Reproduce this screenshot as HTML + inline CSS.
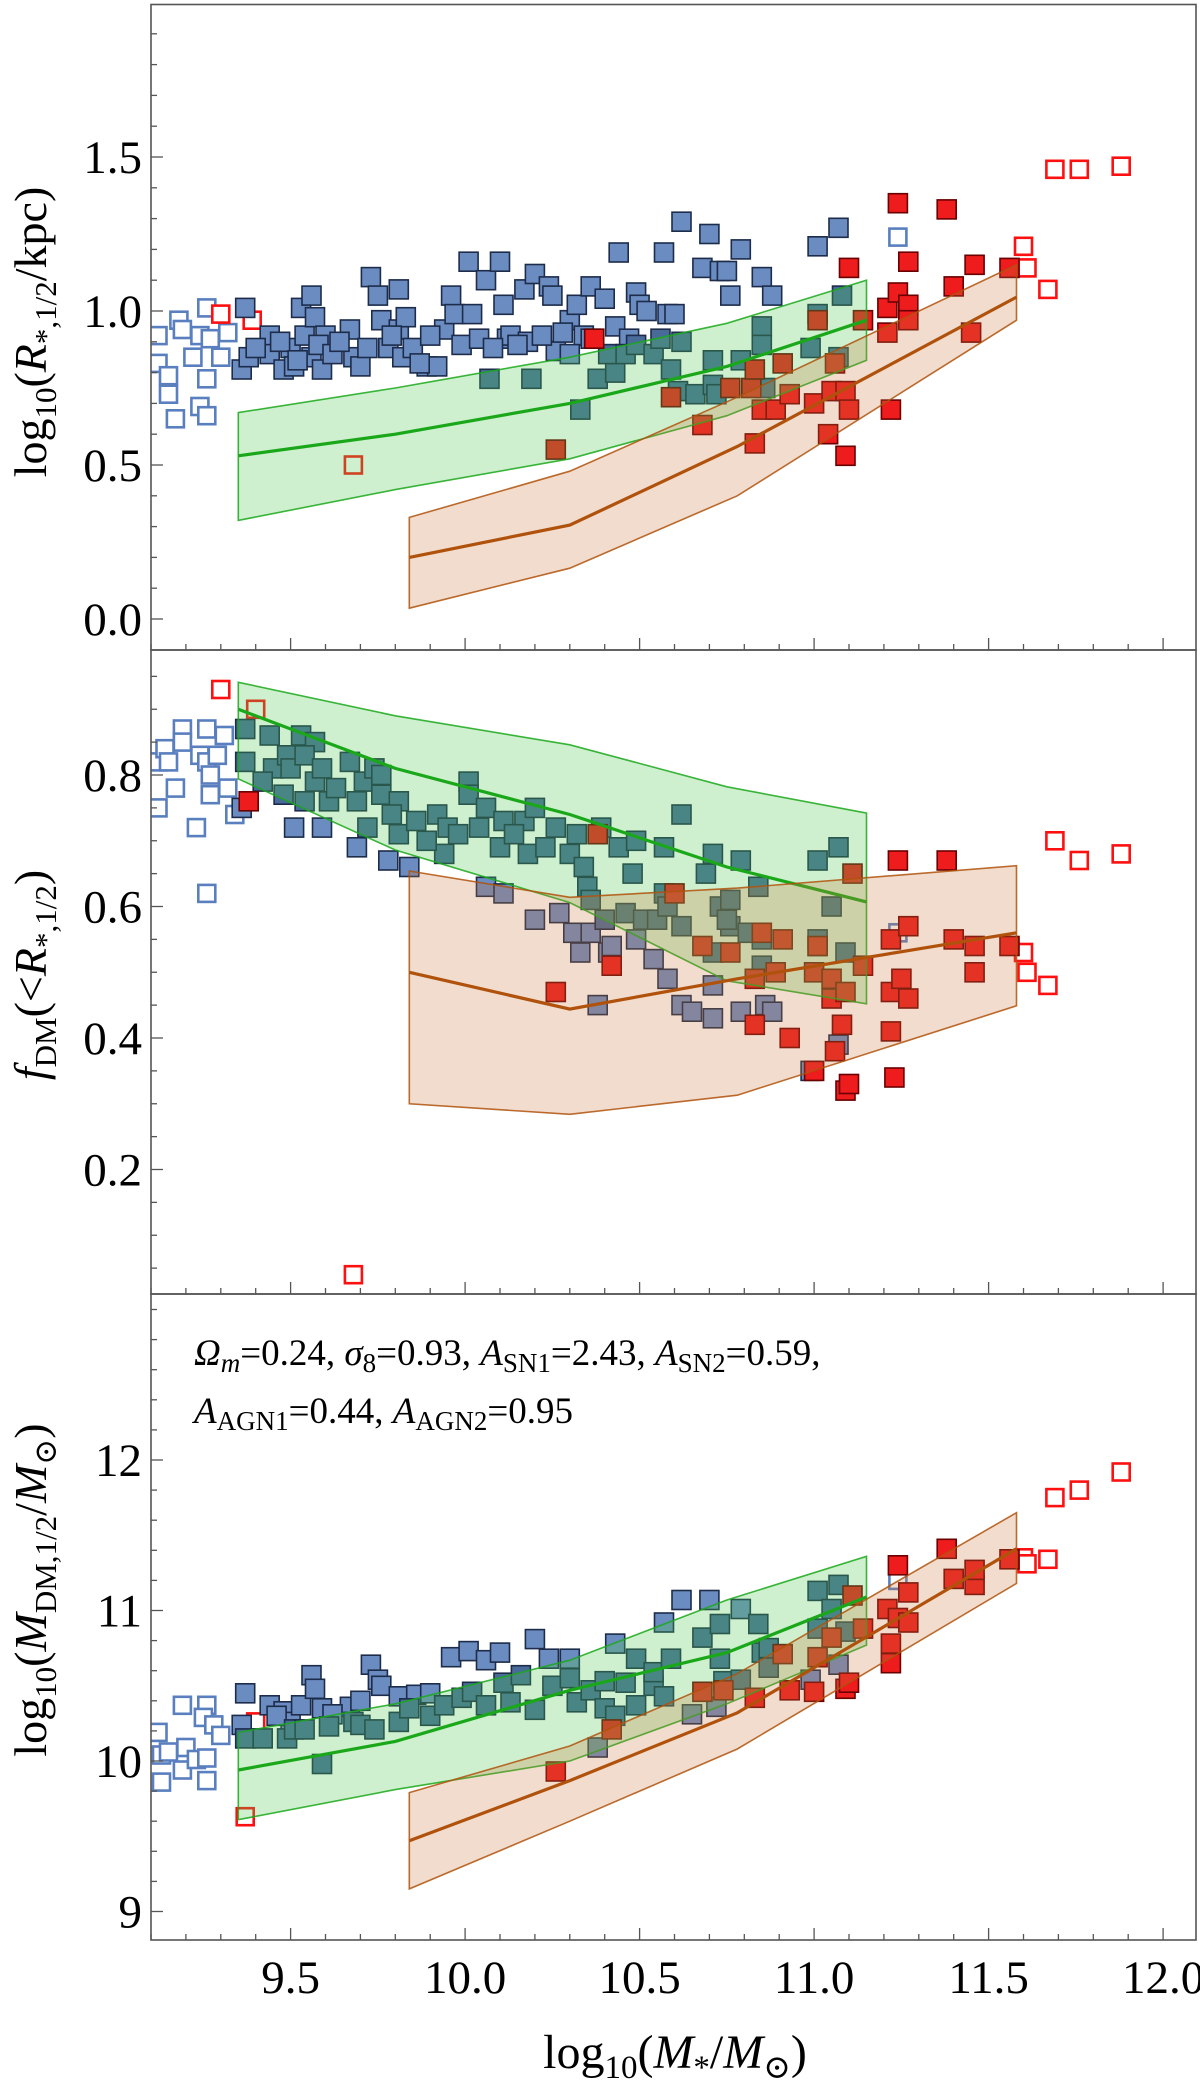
<!DOCTYPE html>
<html><head><meta charset="utf-8"><style>
html,body{margin:0;padding:0;background:#fff;}
svg, svg text{font-family:"Liberation Serif","DejaVu Serif",serif;}
</style></head><body>
<svg id="chart" xmlns="http://www.w3.org/2000/svg" width="1200" height="2091" viewBox="0 0 1200 2091" font-family="Liberation Serif, serif">
<rect x="0" y="0" width="1200" height="2091" fill="#fff"/>
<g id="layer"></g>
<g font-size="37" fill="#000">
<text x="194" y="1365"><tspan font-style="italic">Ω</tspan><tspan font-style="italic" font-size="27" dy="7">m</tspan><tspan dy="-7">=0.24, </tspan><tspan font-style="italic">σ</tspan><tspan font-size="27" dy="7">8</tspan><tspan dy="-7">=0.93, </tspan><tspan font-style="italic">A</tspan><tspan font-size="27" dy="7">SN1</tspan><tspan dy="-7">=2.43, </tspan><tspan font-style="italic">A</tspan><tspan font-size="27" dy="7">SN2</tspan><tspan dy="-7">=0.59,</tspan></text>
<text x="194" y="1423"><tspan font-style="italic">A</tspan><tspan font-size="27" dy="7">AGN1</tspan><tspan dy="-7">=0.44, </tspan><tspan font-style="italic">A</tspan><tspan font-size="27" dy="7">AGN2</tspan><tspan dy="-7">=0.95</tspan></text>
</g>
<text transform="translate(46,332) rotate(-90)" text-anchor="middle" font-size="46">log<tspan font-size="31" dy="10">10</tspan><tspan dy="-10">(</tspan><tspan font-style="italic">R</tspan><tspan font-size="31" dy="10">*,1/2</tspan><tspan dy="-10">/kpc)</tspan></text>
<text transform="translate(46,975) rotate(-90)" text-anchor="middle" font-size="46"><tspan font-style="italic">f</tspan><tspan font-size="31" dy="10">DM</tspan><tspan dy="-10">(&lt;</tspan><tspan font-style="italic">R</tspan><tspan font-size="31" dy="10">*,1/2</tspan><tspan dy="-10">)</tspan></text>
<text transform="translate(46,1590) rotate(-90)" text-anchor="middle" font-size="46">log<tspan font-size="31" dy="10">10</tspan><tspan dy="-10">(</tspan><tspan font-style="italic">M</tspan><tspan font-size="31" dy="10">DM,1/2</tspan><tspan dy="-10">/</tspan><tspan font-style="italic">M</tspan><tspan font-size="31" dy="10">⊙</tspan><tspan dy="-10">)</tspan></text>
<text x="675" y="2068" text-anchor="middle" font-size="48">log<tspan font-size="33" dy="10">10</tspan><tspan dy="-10">(</tspan><tspan font-style="italic">M</tspan><tspan font-size="33" dy="10">*</tspan><tspan dy="-10">/</tspan><tspan font-style="italic">M</tspan><tspan font-size="33" dy="10">⊙</tspan><tspan dy="-10">)</tspan></text>
</svg>
<script>
// ---- shared x axis ----
const xTicks = [9.5, 10.0, 10.5, 11.0, 11.5, 12.0];
const xTickLabels = ["9.5", "10.0", "10.5", "11.0", "11.5", "12.0"];
const bandX = [9.35, 9.8, 10.3, 10.75, 11.15];
const brownX = [9.84, 10.3, 10.78, 11.58];

// ---- top panel: radius ----
const topTicks = [0.0, 0.5, 1.0, 1.5];
const topTickLabels = ["0.0", "0.5", "1.0", "1.5"];
const topGreenMed = [0.53, 0.60, 0.70, 0.82, 0.97];
const topGreenHi = [0.67, 0.75, 0.85, 0.96, 1.10];
const topGreenLo = [0.32, 0.42, 0.52, 0.66, 0.84];
const topBrownMed = [0.20, 0.305, 0.56, 1.045];
const topBrownHi = [0.33, 0.48, 0.72, 1.15];
const topBrownLo = [0.035, 0.165, 0.40, 0.97];
const topBlue = [[9.37,1.01],[9.36,0.81],[9.38,0.85],[9.44,0.92],[9.44,0.86],[9.48,0.81],[9.50,0.88],[9.51,0.82],[9.53,1.01],[9.54,0.92],[9.56,0.85],[9.56,1.05],[9.57,0.98],[9.59,0.81],[9.60,0.92],[9.67,0.94],[9.68,0.85],[9.70,0.82],[9.73,1.11],[9.75,1.05],[9.76,0.97],[9.78,0.88],[9.81,1.07],[9.81,0.94],[9.82,0.85],[9.83,0.98],[9.85,0.88],[9.89,0.82],[9.92,0.82],[9.94,0.94],[9.96,1.05],[9.97,0.99],[10.01,1.16],[10.02,0.99],[10.06,1.10],[10.10,1.16],[10.11,1.02],[10.12,0.91],[10.13,0.92],[10.17,1.07],[10.18,0.90],[10.20,1.12],[10.24,1.08],[10.25,1.05],[10.26,0.87],[10.30,0.97],[10.32,1.02],[10.34,0.92],[10.36,1.08],[10.40,1.04],[10.43,0.95],[10.44,1.19],[10.49,1.06],[10.50,1.02],[10.52,1.00],[10.57,1.19],[10.58,0.99],[10.60,0.99],[10.62,1.29],[10.68,1.14],[10.70,1.25],[10.73,1.13],[10.75,1.13],[10.76,1.05],[10.79,1.20],[10.85,1.11],[10.88,1.05],[11.01,1.21],[11.07,1.27],[10.36,0.91],[10.30,0.86],[9.40,0.88],[9.47,0.90],[9.52,0.84],[9.58,0.89],[9.62,0.86],[9.64,0.90],[9.72,0.88],[9.79,0.92],[9.87,0.83],[9.90,0.92],[9.99,0.89],[10.04,0.91],[10.08,0.88],[10.15,0.89],[10.22,0.92],[10.28,0.93],[10.47,0.91]];
const topTeal = [[10.07,0.78],[10.19,0.78],[10.33,0.68],[10.38,0.78],[10.43,0.80],[10.41,0.86],[10.46,0.86],[10.49,0.89],[10.54,0.86],[10.56,0.91],[10.59,0.81],[10.62,0.90],[10.61,0.74],[10.66,0.73],[10.71,0.84],[10.71,0.76],[10.72,0.73],[10.79,0.84],[10.85,0.95],[10.86,0.75],[10.99,0.88],[11.01,0.99],[11.07,0.85],[11.08,1.05],[10.85,0.89]];
const topRed = [[10.26,0.55],[10.37,0.91],[10.59,0.72],[10.68,0.63],[10.76,0.75],[10.82,0.75],[10.83,0.81],[10.83,0.57],[10.85,0.68],[10.89,0.68],[10.91,0.83],[10.93,0.73],[11.00,0.70],[11.01,0.97],[11.04,0.60],[11.05,0.74],[11.06,0.83],[11.09,0.74],[11.09,0.53],[11.10,0.68],[11.10,1.14],[11.14,0.97],[11.21,1.01],[11.21,0.93],[11.22,0.68],[11.24,1.35],[11.24,1.06],[11.27,1.16],[11.27,1.02],[11.27,0.97],[11.38,1.33],[11.40,1.08],[11.45,0.93],[11.46,1.15],[11.56,1.14]];
const topOpenBlue = [[9.12,0.92],[9.12,0.83],[9.15,0.79],[9.15,0.73],[9.17,0.65],[9.18,0.97],[9.19,0.94],[9.22,0.85],[9.24,0.92],[9.24,0.69],[9.26,1.01],[9.26,0.78],[9.27,0.91],[9.30,0.85],[9.32,0.93],[9.26,0.66],[11.24,1.24]];
const topOpenRed = [[9.30,0.99],[9.39,0.97],[9.68,0.50],[11.60,1.21],[11.61,1.14],[11.67,1.07],[11.69,1.46],[11.76,1.46],[11.88,1.47]];

// ---- middle panel: f_DM ----
const midTicks = [0.2, 0.4, 0.6, 0.8];
const midTickLabels = ["0.2", "0.4", "0.6", "0.8"];
const midGreenMed = [0.90, 0.81, 0.74, 0.66, 0.607];
const midGreenHi = [0.941, 0.89, 0.846, 0.782, 0.742];
const midGreenLo = [0.794, 0.686, 0.606, 0.487, 0.452];
const midBrownMed = [0.50, 0.444, 0.49, 0.56];
const midBrownHi = [0.654, 0.614, 0.628, 0.662];
const midBrownLo = [0.30, 0.284, 0.313, 0.449];
const midBlue = [[9.36,0.75],[9.51,0.72],[9.59,0.72],[9.69,0.69],[9.78,0.67],[9.84,0.66],[10.06,0.63],[10.11,0.62],[10.20,0.58],[10.27,0.59],[10.31,0.56],[10.33,0.53],[10.38,0.45],[10.41,0.53],[10.42,0.54],[10.49,0.55],[10.54,0.52],[10.58,0.49],[10.62,0.45],[10.65,0.44],[10.71,0.43],[10.71,0.48],[10.79,0.44],[10.86,0.45],[10.88,0.44],[10.99,0.35],[11.07,0.39],[11.01,0.54],[10.36,0.56]];
const midTeal = [[9.37,0.87],[9.44,0.86],[9.37,0.82],[9.45,0.81],[9.49,0.83],[9.50,0.81],[9.53,0.86],[9.57,0.85],[9.54,0.83],[9.48,0.77],[9.54,0.76],[9.57,0.79],[9.59,0.81],[9.61,0.76],[9.67,0.82],[9.71,0.79],[9.74,0.81],[9.76,0.80],[9.69,0.76],[9.72,0.72],[9.76,0.77],[9.81,0.76],[9.81,0.71],[9.86,0.73],[9.92,0.74],[9.95,0.72],[9.94,0.68],[9.98,0.71],[10.01,0.79],[10.01,0.77],[10.06,0.75],[10.11,0.73],[10.10,0.69],[10.17,0.73],[10.20,0.75],[10.18,0.68],[10.23,0.69],[10.30,0.68],[10.32,0.71],[10.34,0.66],[10.35,0.63],[10.36,0.61],[10.39,0.72],[10.40,0.58],[10.44,0.69],[10.46,0.59],[10.49,0.70],[10.48,0.65],[10.51,0.58],[10.55,0.58],[10.57,0.69],[10.57,0.62],[10.58,0.60],[10.62,0.74],[10.62,0.57],[10.69,0.65],[10.71,0.68],[10.73,0.60],[10.76,0.61],[10.76,0.57],[10.79,0.67],[10.81,0.56],[10.84,0.63],[10.85,0.55],[10.85,0.51],[11.01,0.67],[11.01,0.55],[11.05,0.60],[11.07,0.69],[11.09,0.53],[10.71,0.53],[10.75,0.58],[9.42,0.79],[9.63,0.78],[9.79,0.74],[9.89,0.70],[10.04,0.72],[10.14,0.71],[10.26,0.72]];
const midRed = [[9.38,0.76],[10.26,0.47],[10.38,0.71],[10.42,0.51],[10.60,0.62],[10.68,0.54],[10.76,0.53],[10.83,0.42],[10.83,0.49],[10.85,0.56],[10.89,0.50],[10.91,0.55],[10.93,0.40],[11.00,0.50],[11.00,0.35],[11.01,0.54],[11.05,0.49],[11.05,0.46],[11.06,0.38],[11.09,0.47],[11.08,0.42],[11.09,0.32],[11.10,0.33],[11.11,0.65],[11.14,0.51],[11.22,0.47],[11.22,0.55],[11.22,0.41],[11.23,0.34],[11.25,0.49],[11.24,0.67],[11.27,0.57],[11.27,0.46],[11.38,0.67],[11.40,0.55],[11.46,0.50],[11.46,0.54],[11.56,0.54]];
const midOpenBlue = [[9.12,0.75],[9.12,0.82],[9.14,0.84],[9.15,0.82],[9.17,0.78],[9.19,0.87],[9.19,0.85],[9.23,0.72],[9.24,0.83],[9.26,0.87],[9.26,0.82],[9.27,0.80],[9.27,0.77],[9.29,0.83],[9.31,0.86],[9.32,0.78],[9.34,0.74],[9.26,0.62],[11.24,0.56]];
const midOpenRed = [[9.30,0.93],[9.40,0.90],[9.68,0.04],[11.60,0.53],[11.61,0.50],[11.67,0.48],[11.69,0.70],[11.76,0.67],[11.88,0.68]];

// ---- bottom panel: M_DM ----
const botTicks = [9, 10, 11, 12];
const botTickLabels = ["9", "10", "11", "12"];
const botGreenMed = [9.94, 10.13, 10.47, 10.72, 11.09];
const botGreenHi = [10.19, 10.38, 10.67, 11.07, 11.36];
const botGreenLo = [9.61, 9.81, 10.0, 10.38, 10.77];
const botBrownMed = [9.47, 9.87, 10.32, 11.41];
const botBrownHi = [9.79, 10.1, 10.58, 11.65];
const botBrownLo = [9.15, 9.6, 10.08, 11.18];
const botBlue = [[9.37,10.45],[9.44,10.37],[9.48,10.33],[9.50,10.26],[9.53,10.37],[9.56,10.57],[9.57,10.48],[9.59,10.35],[9.67,10.36],[9.73,10.64],[9.75,10.54],[9.76,10.50],[9.81,10.43],[9.86,10.44],[9.96,10.69],[10.01,10.73],[10.06,10.67],[10.10,10.72],[10.20,10.81],[10.24,10.68],[10.30,10.68],[10.43,10.78],[10.57,10.92],[10.62,11.07],[10.70,11.07],[10.79,11.01],[10.99,10.54],[11.07,10.64],[10.65,10.31],[10.72,10.36],[10.38,10.09],[9.36,10.24],[9.46,10.30],[9.62,10.31],[9.70,10.40],[9.90,10.45]];
const botTeal = [[9.37,10.15],[9.42,10.15],[9.49,10.15],[9.51,10.21],[9.54,10.21],[9.61,10.23],[9.68,10.26],[9.70,10.24],[9.74,10.21],[9.81,10.26],[9.84,10.35],[9.90,10.30],[9.94,10.37],[9.99,10.42],[10.02,10.46],[10.06,10.37],[10.11,10.52],[10.13,10.39],[10.16,10.57],[10.20,10.34],[10.25,10.50],[10.30,10.55],[10.32,10.39],[10.36,10.47],[10.40,10.35],[10.40,10.53],[10.43,10.30],[10.46,10.52],[10.49,10.68],[10.49,10.37],[10.54,10.50],[10.54,10.59],[10.57,10.43],[10.59,10.68],[10.68,10.82],[10.73,10.91],[10.73,10.68],[10.74,10.53],[10.79,10.54],[10.84,10.91],[10.85,10.72],[10.87,10.62],[11.01,10.88],[11.01,11.13],[11.05,11.01],[11.07,11.17],[11.09,10.86],[10.87,10.75],[9.59,9.98]];
const botRed = [[10.26,9.93],[10.42,10.21],[10.68,10.46],[10.74,10.47],[10.83,10.42],[10.91,10.71],[10.93,10.47],[11.00,10.46],[11.01,10.69],[11.05,10.82],[11.09,10.48],[11.10,10.52],[11.11,11.10],[11.14,10.88],[11.21,11.01],[11.22,10.78],[11.22,10.65],[11.24,11.30],[11.24,10.95],[11.27,11.12],[11.27,10.92],[11.38,11.41],[11.40,11.21],[11.46,11.17],[11.46,11.27],[11.56,11.34]];
const botOpenBlue = [[9.19,10.37],[9.26,10.37],[9.25,10.29],[9.28,10.24],[9.30,10.17],[9.20,10.09],[9.12,10.19],[9.13,10.04],[9.15,10.06],[9.19,9.94],[9.13,9.86],[9.23,10.01],[9.26,9.87],[9.26,10.02],[11.24,11.20]];
const botOpenRed = [[9.40,10.26],[9.37,9.63],[11.60,11.35],[11.61,11.31],[11.67,11.34],[11.69,11.75],[11.76,11.80],[11.88,11.92]];

const NS = "http://www.w3.org/2000/svg";
const layer = document.getElementById('layer');
const X0 = 151, X1 = 1196;
function xs(v){ return 151 + (v - 9.1) * 349; }
const panels = [
  {name:'radius', top:4.5, bot:650, ys:v=>619 - v*308, ticks:topTicks, labels:topTickLabels, minorStep:0.1, minorFrom:0, minorTo:1.99,
   gMed:topGreenMed, gHi:topGreenHi, gLo:topGreenLo, bMed:topBrownMed, bHi:topBrownHi, bLo:topBrownLo,
   blue:topBlue, teal:topTeal, red:topRed, ob:topOpenBlue, orr:topOpenRed},
  {name:'fdm', top:650, bot:1294, ys:v=>1301 - v*657.5, ticks:midTicks, labels:midTickLabels, minorStep:0.05, minorFrom:0.0, minorTo:0.98,
   gMed:midGreenMed, gHi:midGreenHi, gLo:midGreenLo, bMed:midBrownMed, bHi:midBrownHi, bLo:midBrownLo,
   blue:midBlue, teal:midTeal, red:midRed, ob:midOpenBlue, orr:midOpenRed},
  {name:'mdm', top:1294, bot:1940, ys:v=>1761 - (v-10)*150.5, ticks:botTicks, labels:botTickLabels, minorStep:0.2, minorFrom:8.8, minorTo:13.2,
   gMed:botGreenMed, gHi:botGreenHi, gLo:botGreenLo, bMed:botBrownMed, bHi:botBrownHi, bLo:botBrownLo,
   blue:botBlue, teal:botTeal, red:botRed, ob:botOpenBlue, orr:botOpenRed}
];
function mk(tag, attrs, parent){
  const e = document.createElementNS(NS, tag);
  for (const k in attrs) e.setAttribute(k, attrs[k]);
  (parent||layer).appendChild(e);
  return e;
}
function pts(xArr, yArr, ys){ return xArr.map((x,i)=>xs(x).toFixed(1)+','+ys(yArr[i]).toFixed(1)); }

panels.forEach(p=>{
  const g = mk('g', {});
  
  
  const cpId = 'clip-' + p.name;
  const cp = mk('clipPath', {id: cpId}, g);
  mk('rect', {x:X0, y:p.top, width:X1-X0, height:p.bot-p.top}, cp);
  const plot = mk('g', {'clip-path':'url(#'+cpId+')'}, g);
  function squares(arr, fill, stroke, sw, size, nm){
    const sg = mk('g', {}, plot);
    
    
    arr.forEach(d=>{
      const r = mk('rect', {x:(xs(d[0])-size/2).toFixed(1), y:(p.ys(d[1])-size/2).toFixed(1), width:size, height:size, fill:fill, stroke:stroke, 'stroke-width':sw}, sg);
      
      
    });
  }
  squares(p.ob, '#fff', '#5a7fbf', 2.6, 17, 'open-blue-markers');
  squares(p.orr, '#fff', '#ff1010', 2.6, 17, 'open-red-markers');
  squares(p.blue, '#6b8cc0', '#1c2c4a', 1.6, 19, 'blue-markers');
  squares(p.teal, '#486b9a', '#1c2c4a', 1.6, 19, 'teal-markers');
  squares(p.red, '#ee1c1c', '#6a0000', 1.6, 19, 'red-markers');
  function band(xArr, hi, lo, med, fill, op, lineCol, nm){
    const up = pts(xArr, hi, p.ys), dn = pts(xArr, lo, p.ys).reverse();
    const poly = mk('polygon', {points: up.concat(dn).join(' '), fill:fill, 'fill-opacity':op, stroke:'none'}, plot);
    
    
    const o = mk('polygon', {points: up.concat(dn).join(' '), fill:'none', stroke:lineCol, 'stroke-width':1.6, 'stroke-opacity':0.85}, plot);
    
    
    const m = mk('polyline', {points: pts(xArr, med, p.ys).join(' '), fill:'none', stroke:lineCol, 'stroke-width':3.2}, plot);
    
    
  }
  band(bandX, p.gHi, p.gLo, p.gMed, '#4fc84f', 0.28, '#1aa81a', 'green');
  band(brownX, p.bHi, p.bLo, p.bMed, '#c8783c', 0.26, '#b0520c', 'brown');
  const fr = mk('rect', {x:X0, y:p.top, width:X1-X0, height:p.bot-p.top, fill:'none', stroke:'#555', 'stroke-width':1.6}, g);
  
  
  for (let i = 0; i <= 30; i++){
    const v = 9.1 + i*0.1;
    const x = xs(v);
    if (x > X1 - 1) continue;
    const major = Math.abs((v*2) - Math.round(v*2)) < 1e-6;
    const t = mk('line', {x1:x, x2:x, y1:p.bot, y2:p.bot - (major?12:6), stroke:'#555', 'stroke-width':1.3}, g);
    
    
  }
  for (let v = p.minorFrom; v <= p.minorTo + 1e-6; v += p.minorStep){
    const y = p.ys(v);
    if (y < p.top + 2 || y > p.bot - 2) continue;
    const isMajor = p.ticks.some(t=>Math.abs(t - v) < 1e-6);
    const t = mk('line', {x1:X0, x2:X0 + (isMajor?12:6), y1:y, y2:y, stroke:'#555', 'stroke-width':1.3}, g);
    
    
  }
  p.ticks.forEach((v,i)=>{
    const t = mk('text', {x:142, y:(p.ys(v)+16).toFixed(1), 'text-anchor':'end', 'font-size':47, fill:'#000', 'font-family':'Liberation Serif, serif'}, g);
    
    
    t.textContent = p.labels[i];
  });
});
xTicks.forEach((v,i)=>{
  const t = mk('text', {x:xs(v).toFixed(1), y:1993, 'text-anchor':'middle', 'font-size':47, fill:'#000', 'font-family':'Liberation Serif, serif'});
  
  
  t.textContent = xTickLabels[i];
});
</script>
</body></html>
